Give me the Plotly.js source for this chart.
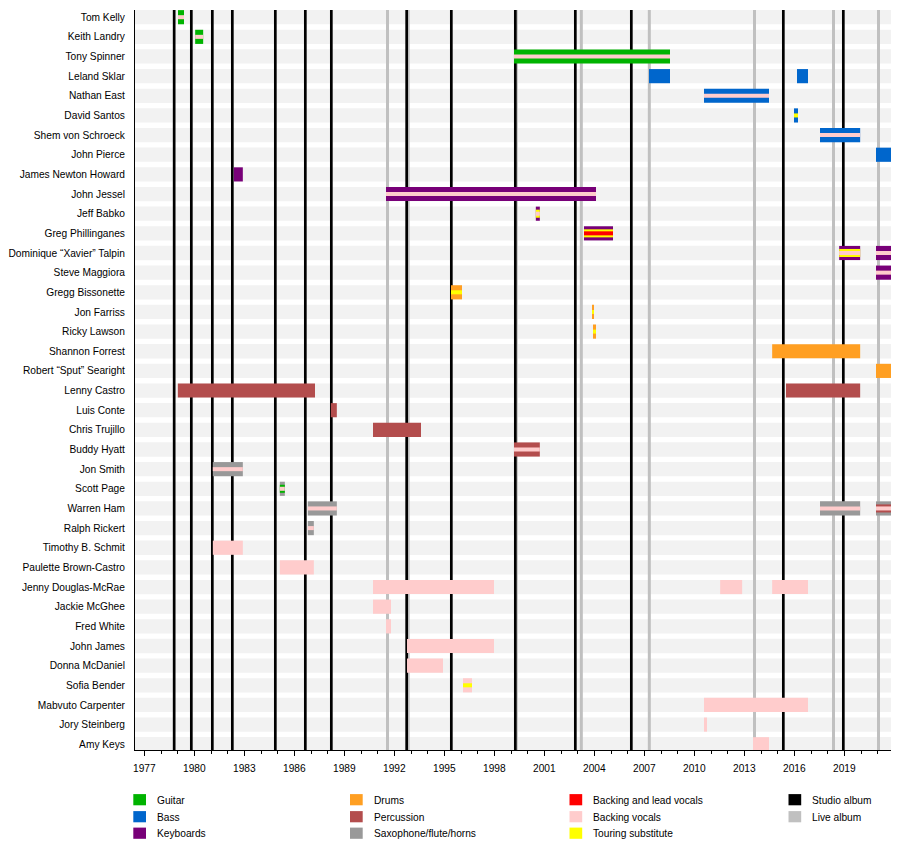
<!DOCTYPE html>
<html>
<head>
<meta charset="utf-8">
<script src="https://cdn.plot.ly/plotly-3.0.1.min.js"></script>
<style>html,body{margin:0;padding:0;background:#fff}</style>
</head>
<body>
<div id="chart" style="width:900px;height:850px"></div>
<script>
// ---------- DATA ----------
const members = [
  "Tom Kelly","Keith Landry","Tony Spinner","Leland Sklar","Nathan East","David Santos",
  "Shem von Schroeck","John Pierce","James Newton Howard","John Jessel","Jeff Babko",
  "Greg Phillinganes","Dominique “Xavier” Talpin","Steve Maggiora","Gregg Bissonette",
  "Jon Farriss","Ricky Lawson","Shannon Forrest","Robert “Sput” Searight","Lenny Castro",
  "Luis Conte","Chris Trujillo","Buddy Hyatt","Jon Smith","Scott Page","Warren Ham",
  "Ralph Rickert","Timothy B. Schmit","Paulette Brown-Castro","Jenny Douglas-McRae",
  "Jackie McGhee","Fred White","John James","Donna McDaniel","Sofia Bender",
  "Mabvuto Carpenter","Jory Steinberg","Amy Keys"
];

const periodStart = 1976.44;
const periodEnd = 2021.80;

const segMember = [
  "Tom Kelly","Keith Landry","Tony Spinner","Leland Sklar","Leland Sklar","Nathan East",
  "David Santos","Shem von Schroeck","John Pierce","James Newton Howard","John Jessel",
  "Jeff Babko","Greg Phillinganes","Dominique “Xavier” Talpin","Dominique “Xavier” Talpin",
  "Steve Maggiora","Gregg Bissonette","Jon Farriss","Ricky Lawson","Shannon Forrest",
  "Robert “Sput” Searight","Lenny Castro","Lenny Castro","Luis Conte","Chris Trujillo",
  "Buddy Hyatt","Jon Smith","Scott Page","Warren Ham","Warren Ham","Warren Ham",
  "Ralph Rickert","Timothy B. Schmit","Paulette Brown-Castro","Jenny Douglas-McRae",
  "Jenny Douglas-McRae","Jenny Douglas-McRae","Jackie McGhee","Fred White","John James",
  "Donna McDaniel","Sofia Bender","Mabvuto Carpenter","Jory Steinberg","Amy Keys"
];
const segStart = [
  1979.02,1980.05,1999.18,2007.28,2016.16,2010.58,
  2015.98,2017.54,2020.90,1982.37,1991.50,
  2000.49,2003.38,2018.69,2020.90,
  2020.90,1995.40,2003.86,2003.92,2014.67,
  2020.90,1979.01,2015.50,1988.19,1990.72,
  1999.18,1981.11,1985.13,1986.81,2017.54,2020.90,
  1986.81,1981.11,1985.13,1990.72,
  2011.55,2014.67,1990.72,1991.50,1992.76,
  1992.76,1996.12,2010.58,2010.58,2013.52
];
const segEnd = [
  1979.38,1980.53,2008.54,2008.54,2016.82,2014.48,
  2016.22,2019.95,2021.80,1982.91,2004.10,
  2000.73,2005.12,2019.95,2021.80,
  2021.80,1996.06,2003.98,2004.10,2019.95,
  2021.80,1987.24,2019.95,1988.55,1993.60,
  2000.73,1982.91,1985.43,1988.55,2019.95,2021.80,
  1987.17,1982.91,1987.17,1997.98,
  2012.87,2016.82,1991.80,1991.80,1997.98,
  1994.92,1996.66,2016.82,2010.76,2014.48
];
const segMain = [
  "gtr","gtr","gtr","bass","bass","bass",
  "bass","bass","bass","keys","keys",
  "keys","keys","keys","keys",
  "keys","drums","drums","drums","drums",
  "drums","perc","perc","perc","perc",
  "perc","sax","sax","sax","sax","sax",
  "sax","bv","bv","bv",
  "bv","bv","bv","bv","bv",
  "bv","bv","bv","bv","bv"
];
const segRing = [
  null,null,null,null,null,null,
  null,null,null,null,null,
  "sub","sub","sub",null,
  null,null,null,null,null,
  null,null,null,null,null,
  null,null,"gtr",null,null,"perc",
  null,null,null,null,
  null,null,null,null,null,
  null,null,null,null,null
];
const segCenter = [
  "bv","bv","bv",null,null,"bv",
  "sub","bv",null,null,"bv",
  "bv","lead","bv","bv",
  "bv","sub","sub","sub",null,
  null,null,null,null,null,
  "bv","bv","bv","bv","bv","bv",
  "bv",null,null,null,
  null,null,null,null,null,
  null,"sub",null,null,null
];

const studioAlbums = [1978.79,1979.82,1981.08,1982.28,1984.86,1986.66,1988.22,1992.74,1995.42,1999.26,2002.86,2006.22,2015.34,2018.94];
const liveAlbums = [1991.59,1992.83,1999.32,2003.22,2007.30,2013.61,2018.35,2021.05];

const roleKeys = ["gtr","bass","keys","drums","perc","sax","lead","bv","sub","studio","live"];
const roleLabels = ["Guitar","Bass","Keyboards","Drums","Percussion","Saxophone/flute/horns","Backing and lead vocals","Backing vocals","Touring substitute","Studio album","Live album"];
const roleColors = ["#00b300","#0066cc","#780078","#ff9f22","#b34d4d","#999999","#ff0000","#ffcccc","#ffff00","#000000","#c0c0c0"];

// ---------- BUILD ----------
const FONT = "Liberation Sans, Arial, sans-serif";
const FS = 10.2;
const colorOf = k => roleColors[roleKeys.indexOf(k)];
const rowOf = name => members.indexOf(name);

function layerTrace(roleArr, width) {
  const y = [], base = [], x = [], c = [];
  for (let i = 0; i < segMember.length; i++) {
    if (!roleArr[i]) continue;
    y.push(rowOf(segMember[i]));
    base.push(segStart[i]);
    x.push(segEnd[i] - segStart[i]);
    c.push(colorOf(roleArr[i]));
  }
  return {type:"bar", orientation:"h", y:y, x:x, base:base, width:width,
          marker:{color:c, line:{width:0}}, hoverinfo:"skip", showlegend:false};
}

const traces = [
  layerTrace(segMain, 0.72),
  layerTrace(segRing, 0.41),
  layerTrace(segCenter, 0.205)
];

const shapes = [];
// background stripes
members.forEach((m, i) => {
  shapes.push({type:"rect", layer:"below", xref:"paper", yref:"y", x0:0, x1:1,
    y0:i-0.363, y1:i+0.363, fillcolor:"#f2f2f2", line:{width:0}});
});
// album lines
liveAlbums.forEach(d => shapes.push({type:"line", layer:"below", xref:"x", yref:"paper",
  x0:d, x1:d, y0:0, y1:1, line:{color:colorOf("live"), width:3}}));
studioAlbums.forEach(d => shapes.push({type:"line", layer:"below", xref:"x", yref:"paper",
  x0:d, x1:d, y0:0, y1:1, line:{color:colorOf("studio"), width:2.7}}));

// legend (4 columns)
const L = 135, PW = 756, T = 10, PH = 740;
const px2x = p => (p - L) / PW;
const py2y = p => (T + PH - p) / PH;
const legendCols = [[0,1,2],[3,4,5],[6,7,8],[9,10]];
const colLeft = [133.3, 350.0, 569.5, 788.5];
const rowCenter = [799.7, 816.7, 833.2];
const annotations = [];
legendCols.forEach((col, ci) => {
  col.forEach((ri, r) => {
    const cx = colLeft[ci], cy = rowCenter[r];
    shapes.push({type:"rect", xref:"paper", yref:"paper",
      x0:px2x(cx), x1:px2x(cx+12.7), y0:py2y(cy-5.6), y1:py2y(cy+5.6),
      fillcolor:roleColors[ri], line:{width:0}});
    annotations.push({xref:"paper", yref:"paper", x:px2x(cx+21.5), y:py2y(cy+0.4),
      xanchor:"left", yanchor:"middle", showarrow:false, text:roleLabels[ri],
      font:{family:FONT, size:FS, color:"#000"}});
  });
});

const layout = {
  width:900, height:850,
  margin:{l:135, r:9, t:10, b:100, pad:0},
  paper_bgcolor:"#ffffff", plot_bgcolor:"#ffffff",
  barmode:"overlay", showlegend:false,
  font:{family:FONT, size:FS, color:"#000"},
  xaxis:{range:[periodStart, periodEnd], tick0:1977, dtick:3, ticks:"outside", ticklen:5,
    tickcolor:"#000", tickwidth:1, showline:true, linecolor:"#000", linewidth:1,
    showgrid:false, zeroline:false, ticklabelstandoff:4,
    minor:{dtick:1, tick0:1977, ticks:"outside", ticklen:3, tickcolor:"#000", showgrid:false},
    tickfont:{family:FONT, size:FS, color:"#000"}},
  yaxis:{range:[37.293, -0.366], tickmode:"array", tickvals:members.map((m,i)=>i), ticktext:members,
    ticks:"", showline:true, linecolor:"#000", linewidth:1, showgrid:false, zeroline:false,
    ticklabelstandoff:7,
    tickfont:{family:FONT, size:FS, color:"#000"}},
  shapes:shapes,
  annotations:annotations
};

Plotly.newPlot("chart", traces, layout, {staticPlot:true, displayModeBar:false});
</script>
</body>
</html>
